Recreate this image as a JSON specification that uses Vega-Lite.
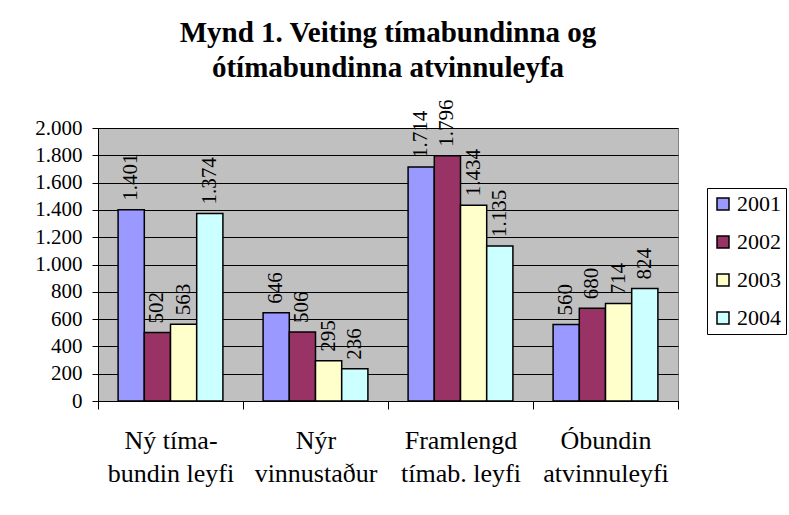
{
  "$schema": "https://vega.github.io/schema/vega-lite/v6.json",
  "width": 580,
  "height": 273,
  "autosize": {"type": "none"},
  "padding": {"top": 128, "left": 98, "right": 111, "bottom": 114},
  "background": "white",
  "title": {
    "text": ["Mynd 1. Veiting tímabundinna og", "ótímabundinna atvinnuleyfa"],
    "font": "Liberation Serif",
    "fontSize": 29,
    "fontWeight": "bold",
    "lineHeight": 35,
    "color": "black",
    "anchor": "middle",
    "frame": "group",
    "offset": 17
  },
  "config": {
    "locale": {"number": {"decimal": ",", "thousands": ".", "grouping": [3], "currency": ["", " kr."]}},
    "view": {"fill": "#C0C0C0", "stroke": "#808080", "strokeWidth": 1},
    "font": "Liberation Serif"
  },
  "data": {
    "values": [
      {"cat": "Ný tíma-\nbundin leyfi", "year": "2001", "value": 1401},
      {"cat": "Ný tíma-\nbundin leyfi", "year": "2002", "value": 502},
      {"cat": "Ný tíma-\nbundin leyfi", "year": "2003", "value": 563},
      {"cat": "Ný tíma-\nbundin leyfi", "year": "2004", "value": 1374},
      {"cat": "Nýr\nvinnustaður", "year": "2001", "value": 646},
      {"cat": "Nýr\nvinnustaður", "year": "2002", "value": 506},
      {"cat": "Nýr\nvinnustaður", "year": "2003", "value": 295},
      {"cat": "Nýr\nvinnustaður", "year": "2004", "value": 236},
      {"cat": "Framlengd\ntímab. leyfi", "year": "2001", "value": 1714},
      {"cat": "Framlengd\ntímab. leyfi", "year": "2002", "value": 1796},
      {"cat": "Framlengd\ntímab. leyfi", "year": "2003", "value": 1434},
      {"cat": "Framlengd\ntímab. leyfi", "year": "2004", "value": 1135},
      {"cat": "Óbundin\natvinnuleyfi", "year": "2001", "value": 560},
      {"cat": "Óbundin\natvinnuleyfi", "year": "2002", "value": 680},
      {"cat": "Óbundin\natvinnuleyfi", "year": "2003", "value": 714},
      {"cat": "Óbundin\natvinnuleyfi", "year": "2004", "value": 824}
    ]
  },
  "encoding": {
    "x": {
      "field": "cat",
      "type": "nominal",
      "sort": null,
      "scale": {"paddingInner": 0, "paddingOuter": 0},
      "axis": {
        "title": null,
        "labelAngle": 0,
        "labelExpr": "split(datum.label, '\\n')",
        "labelFont": "Liberation Serif",
        "labelFontSize": 26,
        "labelLineHeight": 33,
        "labelColor": "black",
        "labelPadding": 18,
        "labelBaseline": "top",
        "tickBand": "extent",
        "tickSize": 8,
        "tickColor": "black",
        "domainColor": "black",
        "grid": false
      }
    },
    "xOffset": {
      "field": "year",
      "type": "nominal",
      "scale": {"paddingInner": 0, "paddingOuter": 0.767}
    },
    "y": {
      "field": "value",
      "type": "quantitative",
      "scale": {"domain": [0, 2000], "nice": false},
      "axis": {
        "title": null,
        "values": [0, 200, 400, 600, 800, 1000, 1200, 1400, 1600, 1800, 2000],
        "format": ",d",
        "labelFont": "Liberation Serif",
        "labelFontSize": 21,
        "labelColor": "black",
        "labelPadding": 10,
        "tickSize": 6,
        "tickColor": "black",
        "domainColor": "black",
        "gridColor": "black",
        "gridWidth": 1,
        "grid": true
      }
    }
  },
  "layer": [
    {
      "mark": {"type": "bar", "stroke": "black", "strokeWidth": 1.5},
      "encoding": {
        "fill": {
          "field": "year",
          "type": "nominal",
          "scale": {"domain": ["2001", "2002", "2003", "2004"], "range": ["#9999FF", "#993366", "#FFFFCC", "#CCFFFF"]},
          "legend": {
            "title": null,
            "orient": "none",
            "legendX": 609,
            "legendY": 60,
            "fillColor": "white",
            "strokeColor": "black",
            "padding": 5,
            "cornerRadius": 0,
            "symbolType": "square",
            "symbolSize": 144,
            "symbolStrokeColor": "black",
            "symbolStrokeWidth": 1.5,
            "labelFont": "Liberation Serif",
            "labelFontSize": 22,
            "labelColor": "black",
            "labelOffset": 3,
            "rowPadding": 16
          }
        }
      }
    },
    {
      "mark": {"type": "text", "angle": 270, "align": "left", "baseline": "middle", "dx": 9, "font": "Liberation Serif", "fontSize": 21, "color": "black"},
      "encoding": {
        "text": {"field": "value", "type": "quantitative", "format": ",d"}
      }
    }
  ]
}
